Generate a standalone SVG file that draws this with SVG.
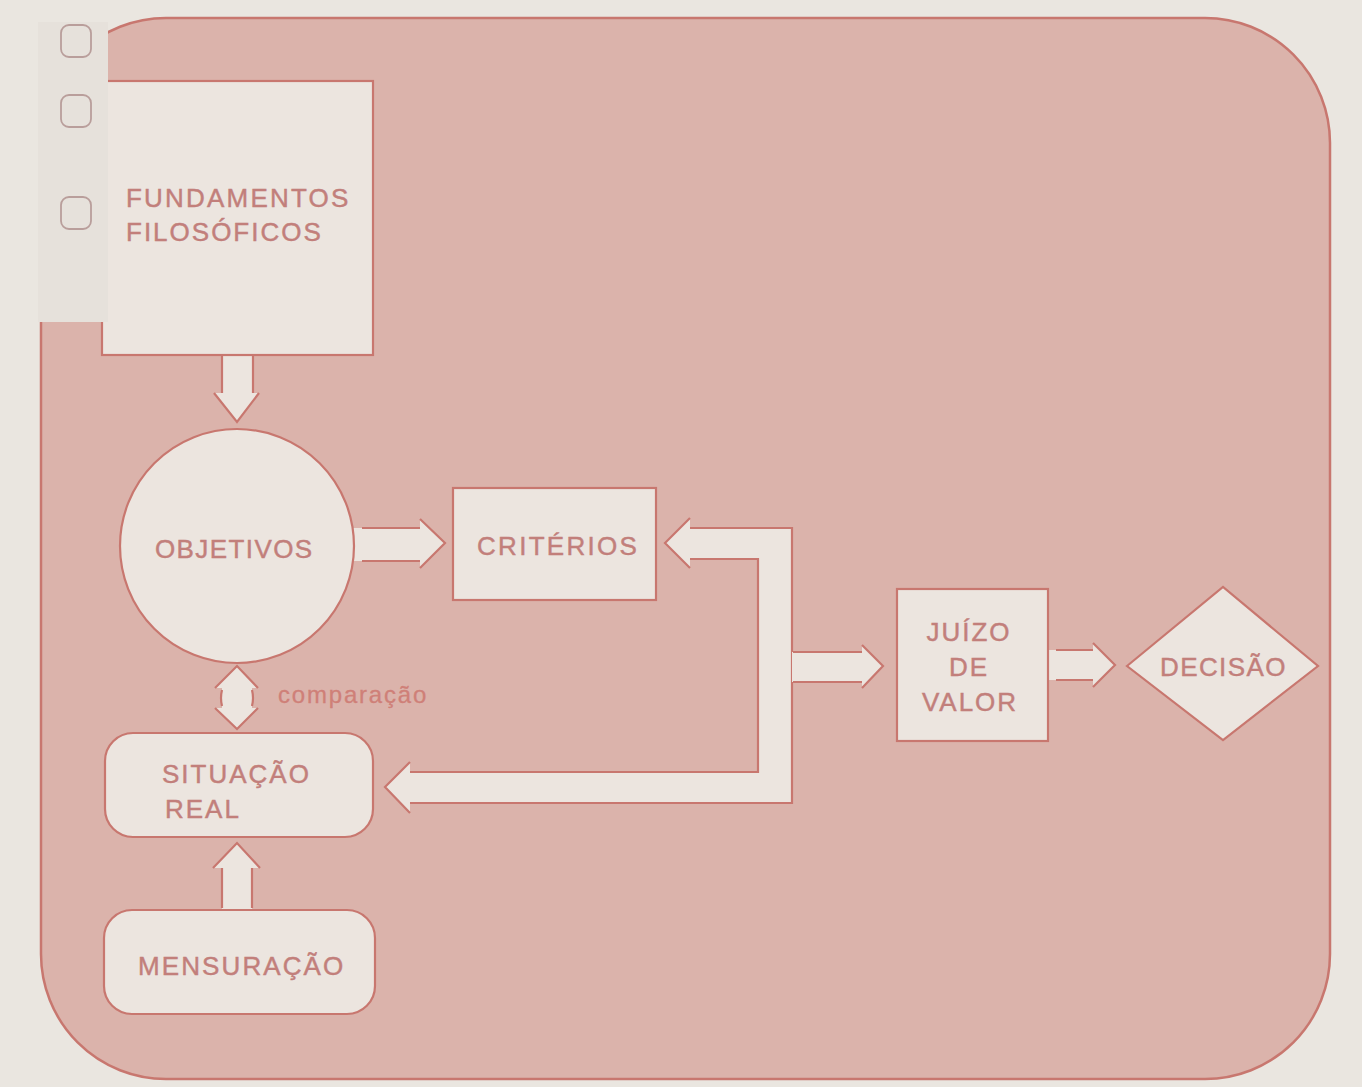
<svg xmlns="http://www.w3.org/2000/svg" width="1362" height="1087" viewBox="0 0 1362 1087">
  <style>
    .panel { fill: #dbb3ab; stroke: #c8776f; stroke-width: 2.5; }
    .node { fill: #ece5df; stroke: #c8776f; stroke-width: 2.2; }
    .label { font-family: "Liberation Sans", Arial, sans-serif; font-size: 26px; letter-spacing: 2px; fill: #c27f7b; stroke: #c27f7b; stroke-width: 0.45; }
    .note { font-family: "Liberation Sans", Arial, sans-serif; font-size: 24px; letter-spacing: 1.8px; fill: #cf8078; stroke: #cf8078; stroke-width: 0.3; }
    .afill { fill: #ece5df; stroke: none; }
    .aline { fill: none; stroke: #c8776f; stroke-width: 2.2; stroke-linejoin: miter; }
    .tab { fill: none; stroke: #b99e9b; stroke-width: 1.8; }
  </style>

  <!-- page -->
  <rect x="0" y="0" width="1362" height="1087" fill="#eae6e0"/>

  <!-- main pink panel -->
  <rect class="panel" x="41" y="18" width="1289" height="1061" rx="125" ry="125"/>

  <!-- connectors (drawn under the nodes) -->
  <g id="connectors">
    <!-- FUNDAMENTOS -> OBJETIVOS -->
    <polygon class="afill" points="222,354 253,354 253,393 259,393 237,423 214,393 222,393"/>
    <path class="aline" d="M222,356 V393 M253,356 V393 M214,393 L237,422 L259,393"/>

    <!-- OBJETIVOS -> CRITÉRIOS -->
    <polygon class="afill" points="345,528 420,528 420,519 445,543 420,568 420,561 345,561"/>
    <path class="aline" d="M362,528 H420 M362,561 H420 M420,519 L445,543 L420,568"/>

    <!-- feedback loop: back to CRITÉRIOS and to SITUAÇÃO REAL -->
    <polygon class="afill" points="690,528 792,528 792,803 410,803 410,813 385,787 410,762 410,772 758,772 758,559 690,559 690,568 665,543 690,518"/>
    <path class="aline" d="M690,528 H792 V803 H410 M410,772 H758 V559 H690 M690,518 L665,543 L690,568 M410,762 L385,787 L410,813"/>

    <!-- loop -> JUÍZO DE VALOR -->
    <polygon class="afill" points="792,652 862,652 862,645 883,666 862,688 862,682 792,682"/>
    <path class="aline" d="M793,652 H862 M793,682 H862 M862,645 L883,666 L862,688"/>

    <!-- JUÍZO DE VALOR -> DECISÃO -->
    <polygon class="afill" points="1046,650 1093,650 1093,643 1115,665 1093,687 1093,680 1046,680"/>
    <path class="aline" d="M1056,650 H1093 M1056,680 H1093 M1093,643 L1115,665 L1093,687"/>

    <!-- comparação (two-way) -->
    <polygon class="afill" points="222,688 215,688 237,666 258,688 252,688 252,708 258,708 237,729 215,708 222,708"/>
    <path class="aline" d="M222,690 Q220,698 222,706 M252,690 Q254,698 252,706 M215,688 L237,666 L258,688 M215,708 L237,729 L258,708"/>

    <!-- MENSURAÇÃO -> SITUAÇÃO REAL -->
    <polygon class="afill" points="222,912 252,912 252,868 260,868 237,843 213,868 222,868"/>
    <path class="aline" d="M222,868 V908 M252,868 V908 M213,868 L237,843 L260,868"/>
  </g>

  <g id="fundamentos">
    <rect class="node" x="102" y="81" width="271" height="274"/>
    <text class="label" x="126" y="207" style="letter-spacing:2.2px">FUNDAMENTOS</text>
    <text class="label" x="126" y="241">FILOSÓFICOS</text>
  </g>

  <!-- binder tab strip with punched squares -->
  <g id="tab-strip">
    <rect x="38" y="22" width="70" height="300" fill="#e6e1db"/>
    <rect class="tab" x="61" y="25" width="30" height="32" rx="8"/>
    <rect class="tab" x="61" y="95" width="30" height="32" rx="8"/>
    <rect class="tab" x="61" y="197" width="30" height="32" rx="8"/>
  </g>

  <g id="objetivos">
    <circle class="node" cx="237" cy="546" r="117"/>
    <text class="label" x="155" y="558" style="letter-spacing:1.4px">OBJETIVOS</text>
  </g>

  <g id="criterios">
    <rect class="node" x="453" y="488" width="203" height="112"/>
    <text class="label" x="477" y="555" style="letter-spacing:2.3px">CRITÉRIOS</text>
  </g>

  <g id="juizo">
    <rect class="node" x="897" y="589" width="151" height="152"/>
    <text class="label" x="969" y="641" text-anchor="middle">JUÍZO</text>
    <text class="label" x="969" y="676" text-anchor="middle">DE</text>
    <text class="label" x="970" y="711" text-anchor="middle">VALOR</text>
  </g>

  <g id="decisao">
    <polygon class="node" points="1127,666 1223,587 1318,666 1223,740"/>
    <text class="label" x="1160" y="676" style="letter-spacing:1.4px">DECISÃO</text>
  </g>

  <g id="comparacao">
    <text class="note" x="278" y="703">comparação</text>
  </g>

  <g id="situacao">
    <rect class="node" x="105" y="733" width="268" height="104" rx="28"/>
    <text class="label" x="162" y="783">SITUAÇÃO</text>
    <text class="label" x="165" y="818">REAL</text>
  </g>

  <g id="mensuracao">
    <rect class="node" x="104" y="910" width="271" height="104" rx="28"/>
    <text class="label" x="138" y="975" style="letter-spacing:2.1px">MENSURAÇÃO</text>
  </g>
</svg>
